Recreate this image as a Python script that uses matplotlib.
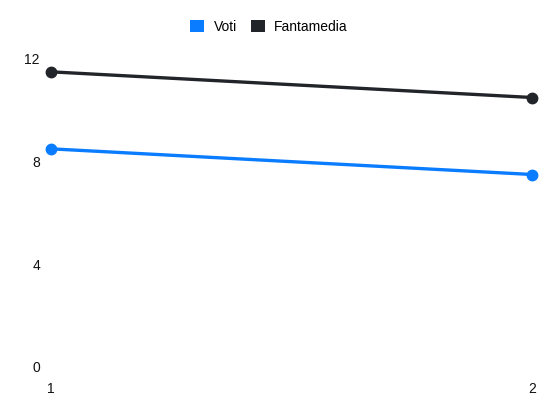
import matplotlib
matplotlib.use("Agg")
from matplotlib import pyplot as plt
from matplotlib.patches import Patch

plt.rcParams['font.family'] = ['Liberation Sans', 'DejaVu Sans']

giornate = [1, 2]
voti = [8.5, 7.5]
fantamedia = [11.5, 10.5]
y_ticks = [0, 4, 8, 12]

blue = '#0a7cff'
dark = '#212529'

fig = plt.figure(figsize=(5.5, 4.12), dpi=100)
ax = fig.add_axes([51/550, 1 - 367/412, (532 - 51)/550, (367 - 59)/412])

ax.plot(giornate, voti, color=blue, lw=2.4, marker='o', ms=7.5, clip_on=False, zorder=3)
ax.plot(giornate, fantamedia, color=dark, lw=2.4, marker='o', ms=7.5, clip_on=False, zorder=3)

ax.set_xlim(1, 2)
ax.set_ylim(0, 12)
ax.set_xticks(giornate)
ax.set_xticklabels([str(g) for g in giornate])
ax.set_yticks(y_ticks)
for s in ax.spines.values():
    s.set_visible(False)
ax.tick_params(length=0, labelsize=10, colors='#111111')
ax.tick_params(axis='y', pad=8)
ax.tick_params(axis='x', pad=11)

handles = [Patch(facecolor=blue, label='Voti'), Patch(facecolor=dark, label='Fantamedia')]
fig.legend(handles=handles, loc='center', bbox_to_anchor=(269/550, 1 - 27/412), ncol=2,
           frameon=False, fontsize=10, handlelength=1.0, handleheight=1.0,
           handletextpad=0.7, columnspacing=1.0)

fig.savefig('out.png', dpi=100)
